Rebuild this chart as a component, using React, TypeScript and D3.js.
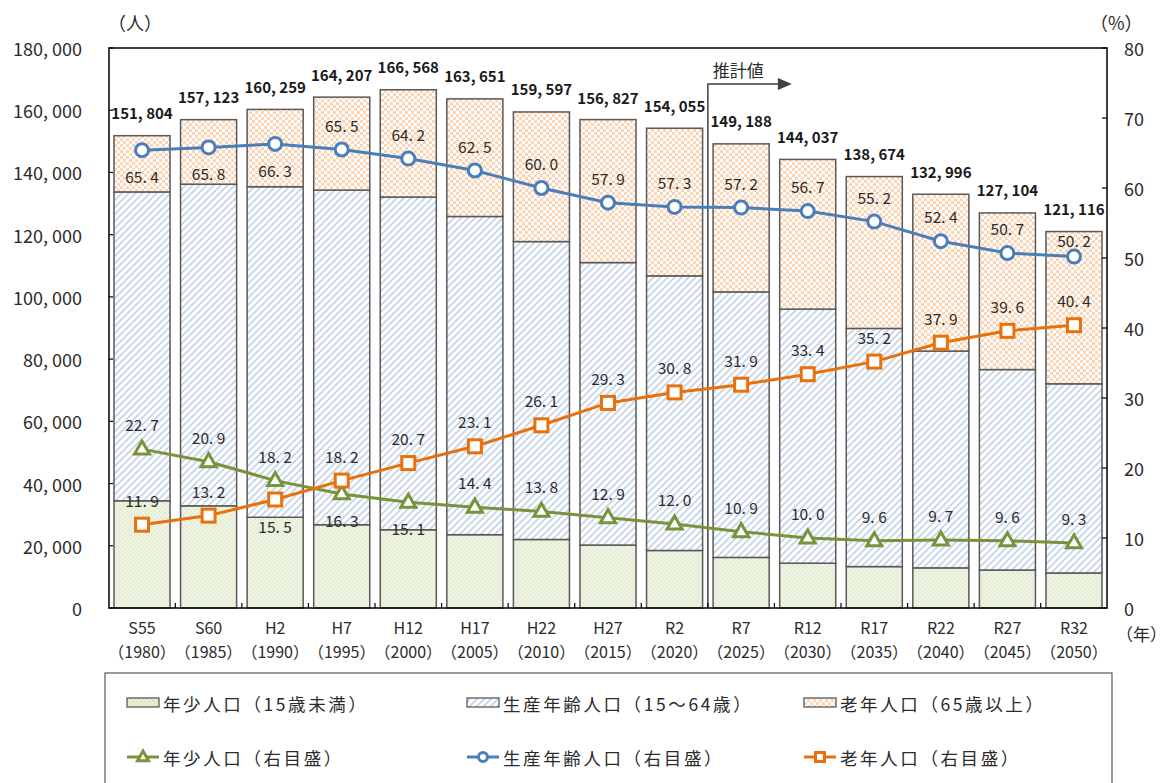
import * as d3 from 'd3'

const categories = ['S55', 'S60', 'H2', 'H7', 'H12', 'H17', 'H22', 'H27', 'R2', 'R7', 'R12', 'R17', 'R22', 'R27', 'R32']
const yearLabels = ['（1980）', '（1985）', '（1990）', '（1995）', '（2000）', '（2005）', '（2010）', '（2015）', '（2020）', '（2025）', '（2030）', '（2035）', '（2040）', '（2045）', '（2050）']

const totals = [151804, 157123, 160259, 164207, 166568, 163651, 159597, 156827, 154055, 149188, 144037, 138674, 132996, 127104, 121116]
const youngPop = [34460, 32839, 29167, 26766, 25152, 23566, 22024, 20231, 18487, 16261, 14404, 13313, 12901, 12202, 11264]
const workingPop = [99280, 103387, 106252, 107556, 106937, 102282, 95758, 90803, 88274, 85336, 81669, 76548, 69690, 64442, 60800]
const oldPop = [18065, 20740, 24840, 29886, 34480, 37803, 41655, 45950, 47449, 47591, 48108, 48813, 50405, 50333, 48931]

const youngPct = [22.7, 20.9, 18.2, 16.3, 15.1, 14.4, 13.8, 12.9, 12.0, 10.9, 10.0, 9.6, 9.7, 9.6, 9.3]
const workingPct = [65.4, 65.8, 66.3, 65.5, 64.2, 62.5, 60.0, 57.9, 57.3, 57.2, 56.7, 55.2, 52.4, 50.7, 50.2]
const oldPct = [11.9, 13.2, 15.5, 18.2, 20.7, 23.1, 26.1, 29.3, 30.8, 31.9, 33.4, 35.2, 37.9, 39.6, 40.4]

const leftTicks = [0, 20000, 40000, 60000, 80000, 100000, 120000, 140000, 160000, 180000]
const rightTicks = [0, 10, 20, 30, 40, 50, 60, 70, 80]

// which labels sit under their marker instead of above it
const youngBelow = new Set(['H7', 'H12'])
const workingBelow = new Set(['S55', 'S60', 'H2'])
const oldBelow = new Set(['H2'])
// last working label is nudged down so it clears the total above the bar
const workingNudge: Record<string, number> = { R32: 8 }

const FONT = '"Noto Sans CJK JP", "Noto Sans", sans-serif'
const TXT = '#2b2b2b'
const GREEN = '#77933c'
const BLUE = '#4a7ebb'
const ORANGE = '#e8710c'

const fmtNum = (v: number) => d3.format(',')(v).replace(',', ', ')
const fmtPct = (v: number) => d3.format('.1f')(v).replace('.', '. ')

const margin = { left: 109, right: 1107, top: 48, bottom: 608 }

function Triangle({ x, y, s, color }: { x: number; y: number; s: number; color: string }) {
  const h = s * 0.87
  return (
    <path
      d={`M${x},${y - h * 0.62} L${x + s / 2},${y + h * 0.38} L${x - s / 2},${y + h * 0.38} Z`}
      fill="#fff" stroke={color} strokeWidth={3} strokeLinejoin="miter"
    />
  )
}

export default function App() {
  const x = d3.scaleBand<string>().domain(categories).range([margin.left, margin.right])
    .paddingInner(0.158).paddingOuter(0.075)
  const yL = d3.scaleLinear().domain([0, 180000]).range([margin.bottom, margin.top])
  const yR = d3.scaleLinear().domain([0, 80]).range([margin.bottom, margin.top])
  const bw = x.bandwidth()
  const cx = (c: string) => x(c)! + bw / 2
  const gap = x.step() - bw

  const rows = categories.map((c, i) => ({ c, young: youngPop[i], working: workingPop[i], old: oldPop[i] }))
  const stack = d3.stack<any>().keys(['young', 'working', 'old'])(rows)
  const fills: Record<string, string> = { young: 'url(#pYoung)', working: 'url(#pWork)', old: 'url(#pOld)' }

  const line = d3.line<number>().x((_, i) => cx(categories[i])).y(d => yR(d))

  const series = [
    { vals: youngPct, color: GREEN, below: youngBelow, nudge: {} as Record<string, number>, mark: 'tri' },
    { vals: workingPct, color: BLUE, below: workingBelow, nudge: workingNudge, mark: 'circle' },
    { vals: oldPct, color: ORANGE, below: oldBelow, nudge: {} as Record<string, number>, mark: 'square' },
  ]

  const marker = (mark: string, px: number, py: number, color: string, s: number) => {
    if (mark === 'circle') return <circle cx={px} cy={py} r={s / 2} fill="#fff" stroke={color} strokeWidth={3} />
    if (mark === 'square') return <rect x={px - s / 2} y={py - s / 2} width={s} height={s} fill="#fff" stroke={color} strokeWidth={3} />
    return <Triangle x={px} y={py} s={s + 2} color={color} />
  }

  const estX = x('R7')! - gap / 2
  const arrowY = 84

  const legendBars = [
    { label: '年少人口（15歳未満）', fill: 'url(#pYoungL)', x: 127 },
    { label: '生産年齢人口（15～64歳）', fill: 'url(#pWork)', x: 467 },
    { label: '老年人口（65歳以上）', fill: 'url(#pOld)', x: 804 },
  ]
  const legendLines = [
    { label: '年少人口（右目盛）', color: GREEN, mark: 'tri', x: 127 },
    { label: '生産年齢人口（右目盛）', color: BLUE, mark: 'circle', x: 467 },
    { label: '老年人口（右目盛）', color: ORANGE, mark: 'square', x: 804 },
  ]

  return (
    <svg width={1173} height={783} style={{ position: 'absolute', left: 0, top: 0, background: '#fff' }} fontFamily={FONT}>
      <defs>
        <pattern id="pYoung" width={4} height={4} patternUnits="userSpaceOnUse">
          <rect width={4} height={4} fill="#eef3e2" />
          <rect width={2} height={2} fill="#e6edd6" />
          <rect x={2} y={2} width={2} height={2} fill="#e6edd6" />
        </pattern>
        <pattern id="pYoungL" width={4} height={4} patternUnits="userSpaceOnUse">
          <rect width={4} height={4} fill="#e9f0da" />
          <rect width={2} height={2} fill="#dde7c8" />
          <rect x={2} y={2} width={2} height={2} fill="#dde7c8" />
        </pattern>
        <pattern id="pWork" width={7} height={7} patternUnits="userSpaceOnUse">
          <rect width={7} height={7} fill="#fff" />
          <path d="M0,7 L7,0 M-1,1 L1,-1 M6,8 L8,6" stroke="#c3d4ea" strokeWidth={1.6} />
        </pattern>
        <pattern id="pOld" width={6} height={6} patternUnits="userSpaceOnUse">
          <rect width={6} height={6} fill="#fff" />
          <rect width={3} height={3} fill="#fcd5b6" />
          <rect x={3} y={3} width={3} height={3} fill="#fcd5b6" />
        </pattern>
      </defs>

      {/* bars */}
      {stack.map(layer => (
        <g key={layer.key}>
          {layer.map((d, i) => (
            <rect key={i} x={x(categories[i])} y={yL(d[1])} width={bw} height={yL(d[0]) - yL(d[1])}
              fill={fills[layer.key]} stroke="#595959" strokeWidth={1.5} />
          ))}
        </g>
      ))}

      {/* estimate marker */}
      <path d={`M${estX},${margin.bottom} L${estX},${arrowY} L${estX + 72},${arrowY}`} fill="none" stroke="#404040" strokeWidth={1.5} />
      <path d={`M${estX + 70},${arrowY - 6} L${estX + 84},${arrowY} L${estX + 70},${arrowY + 6} Z`} fill="#404040" />
      <text x={estX + 5} y={arrowY - 7} fontSize={17} fill={TXT}>推計値</text>

      {/* frame */}
      <rect x={margin.left} y={margin.top} width={margin.right - margin.left} height={margin.bottom - margin.top}
        fill="none" stroke="#000" strokeWidth={1.5} />

      {/* left axis */}
      {leftTicks.map(t => (
        <g key={t}>
          <line x1={margin.left} x2={margin.left + 4} y1={yL(t)} y2={yL(t)} stroke="#000" strokeWidth={1.2} />
          <text x={82} y={yL(t)} textAnchor="end" dominantBaseline="central" fontSize={18} fill={TXT}>{fmtNum(t)}</text>
        </g>
      ))}
      {/* right axis */}
      {rightTicks.map(t => (
        <g key={t}>
          <line x1={margin.right - 5} x2={margin.right} y1={yR(t)} y2={yR(t)} stroke="#000" strokeWidth={1.2} />
          <text x={1124} y={yR(t)} dominantBaseline="central" fontSize={18} fill={TXT}>{t}</text>
        </g>
      ))}
      <text x={108} y={22} fontSize={18} fill={TXT} dominantBaseline="central">（人）</text>
      <text x={1090} y={22} fontSize={18} fill={TXT} dominantBaseline="central">（%）</text>
      <text x={1116} y={633} fontSize={17} fill={TXT} dominantBaseline="central">（年）</text>

      {/* category axis */}
      {categories.slice(1).map(c => (
        <line key={c} x1={x(c)! - gap / 2} x2={x(c)! - gap / 2} y1={margin.bottom} y2={margin.bottom - 5} stroke="#000" strokeWidth={1.2} />
      ))}
      {categories.map((c, i) => (
        <g key={c}>
          <text x={cx(c)} y={627} textAnchor="middle" dominantBaseline="central" fontSize={16} fill={TXT}>{c}</text>
          <text x={cx(c)} y={651} textAnchor="middle" dominantBaseline="central" fontSize={16} fill={TXT}>{yearLabels[i]}</text>
        </g>
      ))}

      {/* totals */}
      {categories.map((c, i) => (
        <text key={c} x={cx(c)} y={yL(totals[i]) - 23} textAnchor="middle" dominantBaseline="central"
          fontSize={15} fontWeight="bold" fill="#1a1a1a">{fmtNum(totals[i])}</text>
      ))}

      {/* lines */}
      {series.map((s, k) => (
        <g key={k}>
          <path d={line(s.vals)!} fill="none" stroke={s.color} strokeWidth={3} />
          {s.vals.map((v, i) => (
            <g key={i}>{marker(s.mark, cx(categories[i]), yR(v), s.color, 13)}</g>
          ))}
          {s.vals.map((v, i) => (
            <text key={'t' + i} x={cx(categories[i])}
              y={yR(v) + (s.below.has(categories[i]) ? 26 : -25) + (s.nudge[categories[i]] || 0)}
              textAnchor="middle" dominantBaseline="central" fontSize={15.5} fill={TXT}>{fmtPct(v)}</text>
          ))}
        </g>
      ))}

      {/* legend */}
      <rect x={105} y={673} width={1007} height={130} fill="#fff" stroke="#595959" strokeWidth={1.2} />
      {legendBars.map(l => (
        <g key={l.label}>
          <rect x={l.x} y={698} width={32} height={9} fill={l.fill} stroke="#595959" strokeWidth={1.3} />
          <text x={l.x + 36} y={703} dominantBaseline="central" fontSize={17.5} letterSpacing={2.6} fill={TXT}>{l.label}</text>
        </g>
      ))}
      {legendLines.map(l => (
        <g key={l.label}>
          <line x1={l.x} x2={l.x + 32} y1={757} y2={757} stroke={l.color} strokeWidth={3} />
          {marker(l.mark, l.x + 16, 757, l.color, 9)}
          <text x={l.x + 36} y={757} dominantBaseline="central" fontSize={17.5} letterSpacing={2.6} fill={TXT}>{l.label}</text>
        </g>
      ))}
    </svg>
  )
}
